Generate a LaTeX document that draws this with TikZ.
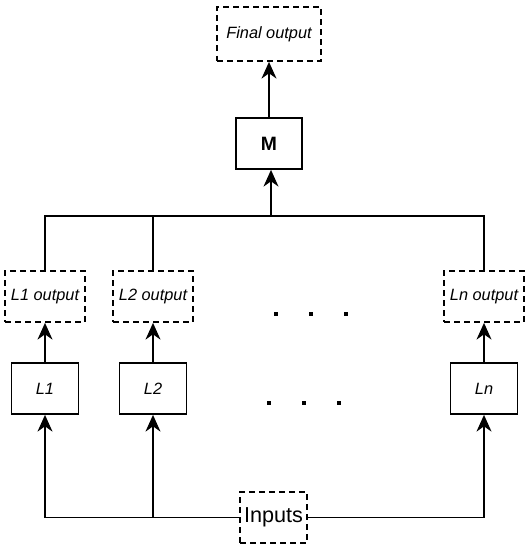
\documentclass[tikz,border=0pt]{standalone}
\usepackage{fontspec}
\setmainfont{Liberation Sans}
\usetikzlibrary{arrows.meta}
\begin{document}
\begin{tikzpicture}[x=0.02cm, y=-0.02cm, line width=1pt,
  arr/.style={-{Stealth[length=9.5pt, width=8.5pt, inset=3pt]}}]
  \tikzset{blk/.style={draw, minimum width=1.34cm, minimum height=1.02cm, inner sep=0pt,
      font=\fontsize{9.3}{11}\selectfont\itshape}}
  \tikzset{outblk/.style={draw, dash pattern=on 3.4pt off 2.3pt, minimum width=1.6cm,
      minimum height=1.02cm, inner sep=0pt, font=\fontsize{9.3}{11}\selectfont\itshape}}
  \useasboundingbox (0,0) rectangle (531,550);
  % Nodes
  \node[outblk, minimum width=2.08cm, minimum height=1.08cm] (fin) at (269,34) {Final output};
  \node[blk, minimum width=1.32cm, font=\fontsize{11}{13}\selectfont\bfseries] (m) at (269,143.5) {M};
  \node[outblk] (l1out) at (45,296.5) {L1 output};
  \node[outblk] (l2out) at (153,296.5) {L2 output};
  \node[outblk] (lnout) at (484,296.5) {Ln output};
  \node[blk] (l1) at (45,388.5) {L1};
  \node[blk] (l2) at (153,388.5) {L2};
  \node[blk] (ln) at (484,388.5) {Ln};
  \node[outblk, minimum width=1.34cm, font=\fontsize{12.3}{14}\selectfont] (inp) at (273.5,517.5) {Inputs};
  % M to final output
  \draw[arr] (m) -- (fin);
  % outputs collected into M
  \coordinate (top) at (271,216);
  \draw (l1out.north) |- (top) -| (lnout.north);
  \draw (l2out.north) -- (l2out.north |- top);
  \draw[arr] (top) -- (top |- m.south);
  % learners to their outputs
  \draw[arr] (l1) -- (l1out);
  \draw[arr] (l2) -- (l2out);
  \draw[arr] (ln) -- (lnout);
  % inputs fed to every learner
  \draw[arr] (inp.west) -| (l1.south);
  \draw[arr] (inp.west -| l2.south) -- (l2.south);
  \draw[arr] (inp.east) -| (ln.south);
  % dots
  \foreach \x in {276,311,346}
    \fill (\x-2,312) rectangle ++(4,4);
  \foreach \x in {269,304,339}
    \fill (\x-2,401) rectangle ++(4,4);
\end{tikzpicture}
\end{document}
